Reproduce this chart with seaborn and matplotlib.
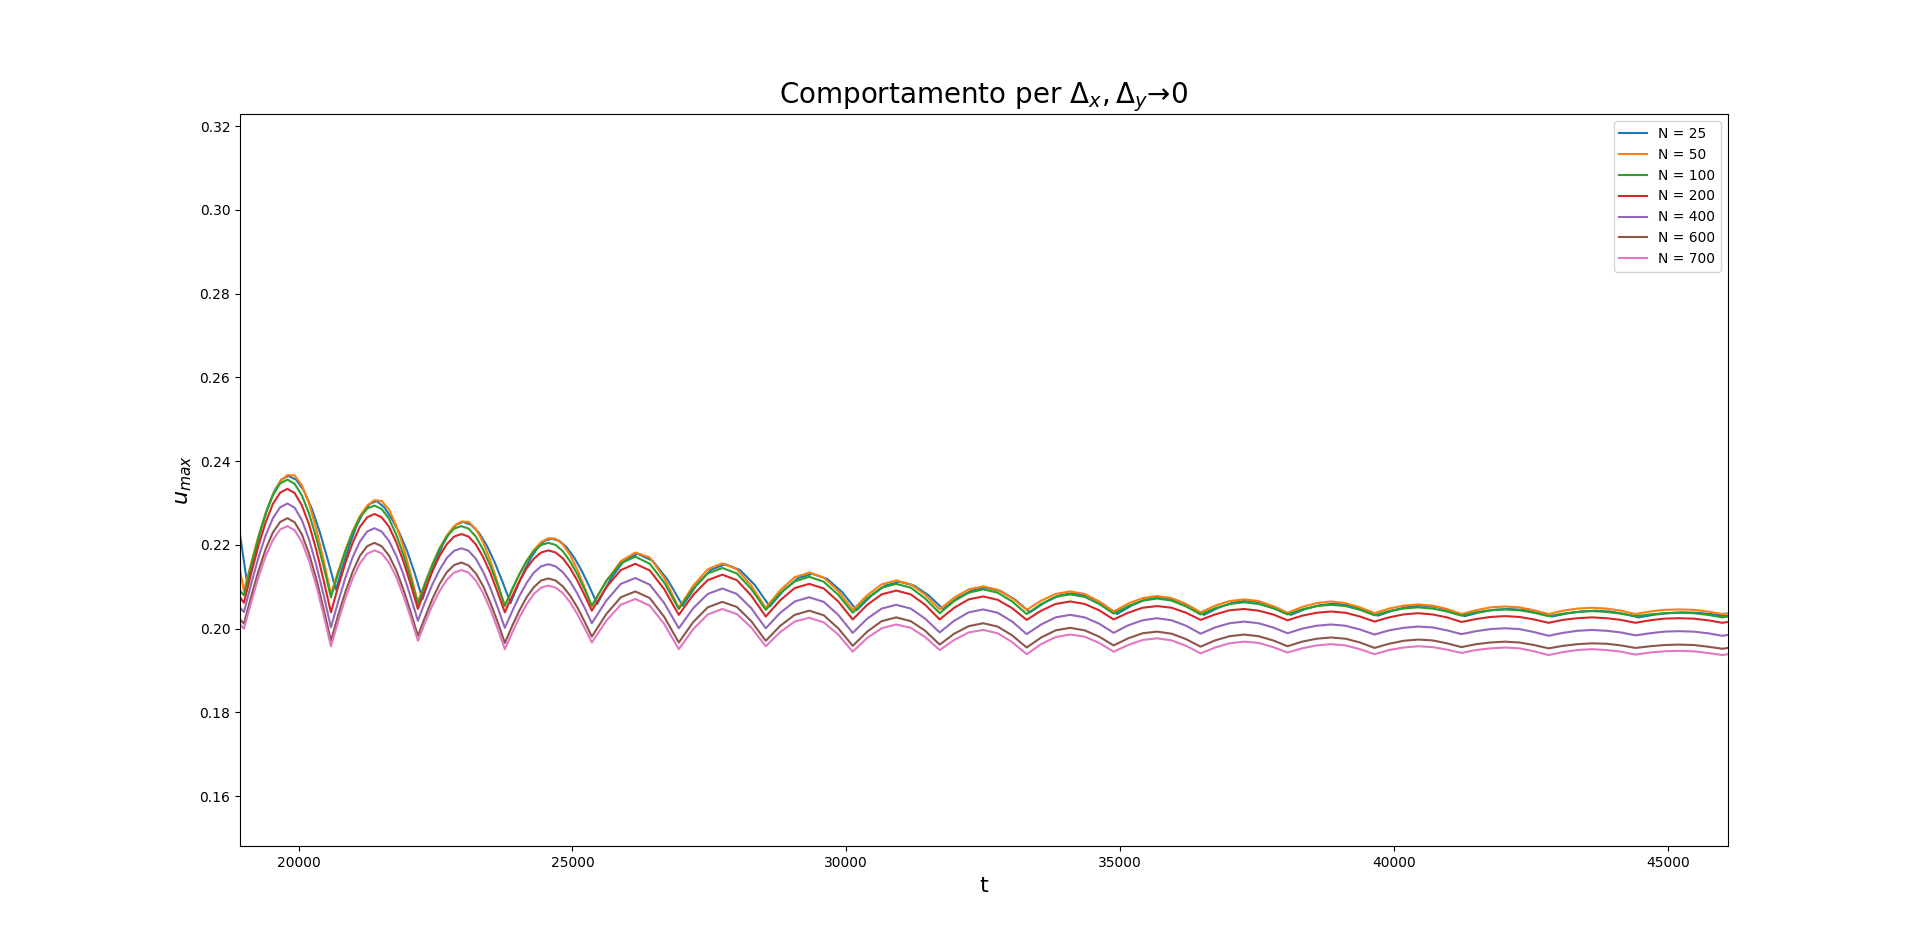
import pandas as pd
import matplotlib
matplotlib.use("Agg")
import matplotlib.pyplot as plt
import seaborn as sns

# tempi comuni (minimi, punti intermedi, massimi)
t = [18930,
     19002, 19134, 19267, 19399, 19531, 19664, 19796, 19928, 20061, 20193, 20325, 20458,
     20590, 20722, 20855, 20987, 21119, 21252, 21384, 21516, 21649, 21781, 21913, 22046,
     22178, 22310, 22443, 22575, 22707, 22840, 22972, 23104, 23237, 23369, 23501, 23634,
     23766, 23898, 24031, 24163, 24295, 24428, 24560, 24692, 24825, 24957, 25089, 25222,
     25354, 25619, 25883, 26148, 26413, 26677,
     26942, 27207, 27471, 27736, 28001, 28265,
     28530, 28795, 29059, 29324, 29589, 29853,
     30118, 30383, 30647, 30912, 31177, 31441,
     31706, 31971, 32235, 32500, 32765, 33029,
     33294, 33559, 33823, 34088, 34353, 34617,
     34882, 35147, 35411, 35676, 35941, 36205,
     36470, 36735, 36999, 37264, 37529, 37793,
     38058, 38323, 38587, 38852, 39117, 39381,
     39646, 39911, 40175, 40440, 40705, 40969,
     41234, 41499, 41763, 42028, 42293, 42557,
     42822, 43087, 43351, 43616, 43881, 44145,
     44410, 44675, 44939, 45204, 45469, 45733,
     45998, 46200]

# N = 25 e' in ritardo di fase, ha i suoi tempi
t_n25 = [18930,
         19062, 19187, 19311, 19436, 19561, 19685, 19810, 19955, 20100, 20246, 20391, 20536,
         20681, 20805, 20928, 21052, 21176, 21299, 21423, 21563, 21703, 21843, 21983, 22123,
         22263, 22387, 22511, 22635, 22758, 22882, 23006, 23150, 23294, 23438, 23582, 23726,
         23870, 23995, 24120, 24245, 24369, 24494, 24619, 24758, 24897, 25036, 25175, 25314,
         25453, 25699, 25944, 26190, 26464, 26738,
         27012, 27271, 27531, 27790, 28061, 28332,
         28603, 28862, 29121, 29380, 29650, 29921,
         30191, 30451, 30710, 30970, 31236, 31501,
         31767, 32028, 32289, 32550, 32818, 33087,
         33355, 33617, 33878, 34140, 34407, 34675,
         34942, 35205, 35467, 35730, 35997, 36263,
         36530, 36793, 37057, 37320, 37586, 37852,
         38118, 38382, 38646, 38910, 39175, 39441,
         39706, 39971, 40235, 40500, 40765, 41029,
         41294, 41559, 41825, 42090, 42354, 42618,
         42882, 43148, 43414, 43680, 43943, 44207,
         44470, 44733, 44997, 45260, 45526, 45792,
         46058, 46200]

u_n25 = [0.2225,
         0.2107, 0.2174, 0.2236, 0.2289, 0.2330, 0.2356, 0.2365, 0.2356, 0.2329, 0.2285, 0.2229, 0.2163,
         0.2093, 0.2148, 0.2199, 0.2243, 0.2277, 0.2298, 0.2305, 0.2290, 0.2262, 0.2228, 0.2185, 0.2131,
         0.2071, 0.2119, 0.2163, 0.2201, 0.2230, 0.2249, 0.2255, 0.2248, 0.2229, 0.2198, 0.2158, 0.2111,
         0.2061, 0.2101, 0.2138, 0.2170, 0.2194, 0.2210, 0.2215, 0.2210, 0.2194, 0.2169, 0.2137, 0.2099,
         0.2059, 0.2119, 0.2163, 0.2179, 0.2162, 0.2117,
         0.2055, 0.2105, 0.2141, 0.2154, 0.2140, 0.2104,
         0.2053, 0.2092, 0.2121, 0.2131, 0.2119, 0.2088,
         0.2044, 0.2078, 0.2103, 0.2112, 0.2103, 0.2080,
         0.2047, 0.2073, 0.2091, 0.2098, 0.2090, 0.2069,
         0.2039, 0.2062, 0.2079, 0.2085, 0.2078, 0.2060,
         0.2035, 0.2055, 0.2070, 0.2075, 0.2069, 0.2054,
         0.2033, 0.2050, 0.2062, 0.2067, 0.2062, 0.2050,
         0.2033, 0.2047, 0.2056, 0.2060, 0.2056, 0.2046,
         0.2031, 0.2043, 0.2052, 0.2055, 0.2052, 0.2043,
         0.2030, 0.2039, 0.2045, 0.2047, 0.2045, 0.2038,
         0.2029, 0.2036, 0.2041, 0.2043, 0.2041, 0.2035,
         0.2027, 0.2033, 0.2037, 0.2039, 0.2038, 0.2035,
         0.2030, 0.2034]

u_n50 = [0.2140,
         0.2090, 0.2157, 0.2221, 0.2276, 0.2320, 0.2352, 0.2367, 0.2366, 0.2342, 0.2298, 0.2237, 0.2163,
         0.2083, 0.2137, 0.2188, 0.2233, 0.2269, 0.2294, 0.2307, 0.2305, 0.2285, 0.2247, 0.2195, 0.2131,
         0.2063, 0.2110, 0.2154, 0.2192, 0.2223, 0.2245, 0.2256, 0.2255, 0.2238, 0.2206, 0.2163, 0.2110,
         0.2053, 0.2092, 0.2130, 0.2162, 0.2188, 0.2207, 0.2216, 0.2215, 0.2201, 0.2176, 0.2141, 0.2099,
         0.2053, 0.2114, 0.2161, 0.2182, 0.2170, 0.2121,
         0.2050, 0.2103, 0.2142, 0.2156, 0.2142, 0.2103,
         0.2050, 0.2092, 0.2123, 0.2134, 0.2122, 0.2090,
         0.2045, 0.2080, 0.2106, 0.2115, 0.2106, 0.2081,
         0.2046, 0.2074, 0.2094, 0.2101, 0.2093, 0.2073,
         0.2045, 0.2067, 0.2083, 0.2089, 0.2083, 0.2065,
         0.2041, 0.2060, 0.2073, 0.2078, 0.2073, 0.2059,
         0.2039, 0.2055, 0.2066, 0.2070, 0.2066, 0.2054,
         0.2038, 0.2052, 0.2061, 0.2065, 0.2061, 0.2051,
         0.2037, 0.2048, 0.2055, 0.2058, 0.2055, 0.2047,
         0.2035, 0.2044, 0.2051, 0.2053, 0.2051, 0.2044,
         0.2035, 0.2043, 0.2048, 0.2050, 0.2048, 0.2043,
         0.2035, 0.2041, 0.2045, 0.2046, 0.2045, 0.2041,
         0.2035, 0.2039]

u_n100 = [0.2090,
          0.2080, 0.2151, 0.2218, 0.2275, 0.2319, 0.2347, 0.2356, 0.2346, 0.2318, 0.2274, 0.2216, 0.2148,
          0.2075, 0.2132, 0.2185, 0.2230, 0.2265, 0.2287, 0.2294, 0.2286, 0.2263, 0.2225, 0.2177, 0.2120,
          0.2059, 0.2107, 0.2152, 0.2191, 0.2220, 0.2239, 0.2245, 0.2239, 0.2220, 0.2189, 0.2150, 0.2104,
          0.2055, 0.2094, 0.2130, 0.2161, 0.2185, 0.2200, 0.2205, 0.2200, 0.2185, 0.2161, 0.2130, 0.2094,
          0.2055, 0.2114, 0.2156, 0.2172, 0.2155, 0.2110,
          0.2047, 0.2096, 0.2132, 0.2145, 0.2132, 0.2095,
          0.2045, 0.2085, 0.2113, 0.2124, 0.2112, 0.2081,
          0.2038, 0.2073, 0.2098, 0.2107, 0.2098, 0.2072,
          0.2037, 0.2066, 0.2086, 0.2094, 0.2086, 0.2065,
          0.2035, 0.2059, 0.2076, 0.2082, 0.2076, 0.2059,
          0.2036, 0.2054, 0.2067, 0.2072, 0.2067, 0.2053,
          0.2034, 0.2049, 0.2059, 0.2063, 0.2059, 0.2049,
          0.2034, 0.2046, 0.2054, 0.2057, 0.2054, 0.2045,
          0.2032, 0.2042, 0.2048, 0.2051, 0.2048, 0.2041,
          0.2031, 0.2039, 0.2044, 0.2046, 0.2044, 0.2038,
          0.2030, 0.2036, 0.2040, 0.2042, 0.2040, 0.2036,
          0.2030, 0.2034, 0.2037, 0.2038, 0.2037, 0.2033,
          0.2027, 0.2031]

u_n200 = [0.2075,
          0.2062, 0.2132, 0.2198, 0.2254, 0.2298, 0.2325, 0.2334, 0.2324, 0.2294, 0.2248, 0.2187, 0.2115,
          0.2039, 0.2100, 0.2157, 0.2205, 0.2243, 0.2266, 0.2274, 0.2266, 0.2244, 0.2207, 0.2161, 0.2106,
          0.2047, 0.2093, 0.2137, 0.2174, 0.2202, 0.2220, 0.2226, 0.2220, 0.2201, 0.2171, 0.2133, 0.2087,
          0.2039, 0.2077, 0.2113, 0.2144, 0.2167, 0.2182, 0.2187, 0.2182, 0.2168, 0.2145, 0.2115, 0.2080,
          0.2043, 0.2099, 0.2140, 0.2155, 0.2139, 0.2094,
          0.2033, 0.2081, 0.2116, 0.2129, 0.2116, 0.2079,
          0.2029, 0.2068, 0.2097, 0.2107, 0.2096, 0.2065,
          0.2022, 0.2057, 0.2082, 0.2091, 0.2082, 0.2057,
          0.2022, 0.2050, 0.2070, 0.2077, 0.2069, 0.2049,
          0.2021, 0.2043, 0.2059, 0.2065, 0.2059, 0.2044,
          0.2022, 0.2038, 0.2050, 0.2054, 0.2050, 0.2038,
          0.2021, 0.2034, 0.2044, 0.2047, 0.2043, 0.2034,
          0.2020, 0.2031, 0.2038, 0.2041, 0.2038, 0.2029,
          0.2017, 0.2027, 0.2034, 0.2037, 0.2034, 0.2027,
          0.2016, 0.2023, 0.2028, 0.2030, 0.2028, 0.2022,
          0.2014, 0.2021, 0.2025, 0.2027, 0.2025, 0.2021,
          0.2014, 0.2020, 0.2024, 0.2025, 0.2024, 0.2020,
          0.2014, 0.2018]

u_n400 = [0.2050,
          0.2040, 0.2107, 0.2170, 0.2223, 0.2264, 0.2290, 0.2299, 0.2289, 0.2259, 0.2212, 0.2151, 0.2080,
          0.2003, 0.2064, 0.2122, 0.2171, 0.2208, 0.2232, 0.2240, 0.2232, 0.2210, 0.2175, 0.2130, 0.2076,
          0.2019, 0.2064, 0.2106, 0.2141, 0.2169, 0.2186, 0.2192, 0.2186, 0.2167, 0.2136, 0.2097, 0.2051,
          0.2002, 0.2041, 0.2078, 0.2109, 0.2134, 0.2149, 0.2154, 0.2149, 0.2135, 0.2113, 0.2084, 0.2050,
          0.2013, 0.2067, 0.2107, 0.2121, 0.2105, 0.2061,
          0.2001, 0.2049, 0.2083, 0.2096, 0.2083, 0.2049,
          0.2001, 0.2038, 0.2065, 0.2075, 0.2064, 0.2033,
          0.1990, 0.2024, 0.2048, 0.2057, 0.2048, 0.2024,
          0.1991, 0.2019, 0.2039, 0.2046, 0.2038, 0.2017,
          0.1987, 0.2010, 0.2027, 0.2033, 0.2027, 0.2012,
          0.1990, 0.2008, 0.2020, 0.2025, 0.2020, 0.2007,
          0.1988, 0.2003, 0.2013, 0.2017, 0.2013, 0.2003,
          0.1989, 0.2000, 0.2007, 0.2010, 0.2007, 0.1998,
          0.1986, 0.1996, 0.2002, 0.2005, 0.2003, 0.1996,
          0.1987, 0.1994, 0.1999, 0.2001, 0.1999, 0.1992,
          0.1983, 0.1990, 0.1995, 0.1997, 0.1995, 0.1991,
          0.1984, 0.1989, 0.1993, 0.1994, 0.1993, 0.1989,
          0.1983, 0.1987]

u_n600 = [0.2022,
          0.2012, 0.2077, 0.2138, 0.2190, 0.2230, 0.2255, 0.2264, 0.2254, 0.2225, 0.2178, 0.2118, 0.2047,
          0.1971, 0.2032, 0.2088, 0.2136, 0.2174, 0.2197, 0.2205, 0.2197, 0.2175, 0.2140, 0.2094, 0.2040,
          0.1983, 0.2028, 0.2071, 0.2107, 0.2135, 0.2152, 0.2158, 0.2151, 0.2132, 0.2102, 0.2062, 0.2016,
          0.1966, 0.2006, 0.2043, 0.2075, 0.2099, 0.2115, 0.2120, 0.2115, 0.2101, 0.2079, 0.2051, 0.2017,
          0.1981, 0.2035, 0.2075, 0.2089, 0.2073, 0.2028,
          0.1967, 0.2016, 0.2051, 0.2064, 0.2052, 0.2018,
          0.1971, 0.2007, 0.2033, 0.2043, 0.2032, 0.2001,
          0.1959, 0.1993, 0.2018, 0.2027, 0.2018, 0.1995,
          0.1962, 0.1988, 0.2006, 0.2013, 0.2005, 0.1984,
          0.1955, 0.1979, 0.1996, 0.2002, 0.1996, 0.1981,
          0.1960, 0.1977, 0.1989, 0.1993, 0.1988, 0.1975,
          0.1957, 0.1972, 0.1982, 0.1986, 0.1982, 0.1972,
          0.1958, 0.1969, 0.1976, 0.1979, 0.1976, 0.1967,
          0.1954, 0.1964, 0.1971, 0.1974, 0.1972, 0.1965,
          0.1956, 0.1963, 0.1967, 0.1969, 0.1967, 0.1961,
          0.1953, 0.1959, 0.1963, 0.1965, 0.1964, 0.1960,
          0.1954, 0.1958, 0.1961, 0.1962, 0.1961, 0.1957,
          0.1952, 0.1956]

u_n700 = [0.2010,
          0.2000, 0.2063, 0.2123, 0.2173, 0.2212, 0.2237, 0.2245, 0.2235, 0.2207, 0.2161, 0.2102, 0.2032,
          0.1958, 0.2017, 0.2073, 0.2120, 0.2156, 0.2179, 0.2187, 0.2180, 0.2158, 0.2124, 0.2079, 0.2027,
          0.1971, 0.2015, 0.2056, 0.2090, 0.2117, 0.2134, 0.2140, 0.2134, 0.2115, 0.2085, 0.2046, 0.2000,
          0.1951, 0.1990, 0.2027, 0.2058, 0.2083, 0.2098, 0.2103, 0.2098, 0.2085, 0.2063, 0.2035, 0.2002,
          0.1967, 0.2019, 0.2057, 0.2071, 0.2055, 0.2011,
          0.1951, 0.1999, 0.2034, 0.2047, 0.2035, 0.2003,
          0.1958, 0.1992, 0.2017, 0.2026, 0.2015, 0.1986,
          0.1945, 0.1978, 0.2001, 0.2010, 0.2002, 0.1980,
          0.1949, 0.1973, 0.1991, 0.1997, 0.1989, 0.1968,
          0.1939, 0.1963, 0.1980, 0.1986, 0.1981, 0.1966,
          0.1945, 0.1961, 0.1973, 0.1977, 0.1972, 0.1959,
          0.1941, 0.1955, 0.1965, 0.1969, 0.1966, 0.1956,
          0.1943, 0.1953, 0.1960, 0.1963, 0.1960, 0.1951,
          0.1939, 0.1949, 0.1955, 0.1958, 0.1956, 0.1950,
          0.1942, 0.1949, 0.1953, 0.1955, 0.1953, 0.1946,
          0.1937, 0.1944, 0.1949, 0.1951, 0.1949, 0.1945,
          0.1938, 0.1943, 0.1946, 0.1947, 0.1946, 0.1942,
          0.1937, 0.1941]

N_values = [25, 50, 100, 200, 400, 600, 700]
serie = [(t_n25, u_n25), (t, u_n50), (t, u_n100), (t, u_n200),
         (t, u_n400), (t, u_n600), (t, u_n700)]

frames = []
for n, (tt, uu) in zip(N_values, serie):
    assert len(tt) == len(uu), n
    frames.append(pd.DataFrame({'t': tt, 'u_max': uu, 'N': f'N = {n}'}))
df = pd.concat(frames, ignore_index=True)

fig, ax = plt.subplots(figsize=(19.2, 9.51), dpi=100)
sns.lineplot(data=df, x='t', y='u_max', hue='N',
             hue_order=[f'N = {n}' for n in N_values],
             palette='tab10', estimator=None, sort=False,
             linewidth=1.5, ax=ax)

ax.set_xlim(18930, 46100)
ax.set_ylim(0.148, 0.3229)
ax.set_title(r'Comportamento per $\Delta_x, \Delta_y$→0', fontsize=20)
ax.set_xlabel('t', fontsize=16)
ax.set_ylabel(r'$u_{max}$', fontsize=16)

handles, labels = ax.get_legend_handles_labels()
ax.legend(handles, labels, loc='upper right')

plt.savefig("out.png", dpi=100)
